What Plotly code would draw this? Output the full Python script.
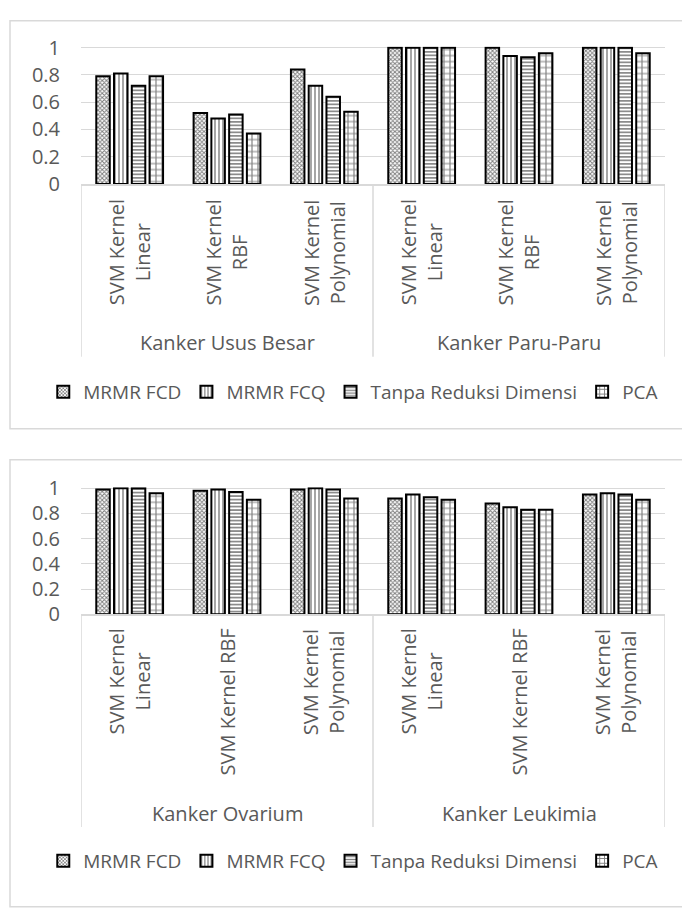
import plotly.graph_objects as go

# ---- data -------------------------------------------------------------
series_names = ["MRMR FCD", "MRMR FCQ", "Tanpa Reduksi Dimensi", "PCA"]

top_groups = ["Kanker Usus Besar", "Kanker Paru-Paru"]
top_kernels = ["SVM Kernel<br>Linear", "SVM Kernel<br>RBF", "SVM Kernel<br>Polynomial"]
top_fcd = [0.79, 0.52, 0.84, 1.00, 1.00, 1.00]
top_fcq = [0.81, 0.48, 0.72, 1.00, 0.94, 1.00]
top_tanpa = [0.72, 0.51, 0.64, 1.00, 0.93, 1.00]
top_pca = [0.79, 0.37, 0.53, 1.00, 0.96, 0.96]

bottom_groups = ["Kanker Ovarium", "Kanker Leukimia"]
bottom_kernels = ["SVM Kernel<br>Linear", "SVM Kernel RBF", "SVM Kernel<br>Polynomial"]
bot_fcd = [0.99, 0.98, 0.99, 0.92, 0.88, 0.95]
bot_fcq = [1.00, 0.99, 1.00, 0.95, 0.85, 0.96]
bot_tanpa = [1.00, 0.97, 0.99, 0.93, 0.83, 0.95]
bot_pca = [0.96, 0.91, 0.92, 0.91, 0.83, 0.91]

y_ticks = [0, 0.2, 0.4, 0.6, 0.8, 1]
y_tick_text = ["0", "0.2", "0.4", "0.6", "0.8", "1"]

# ---- styling ----------------------------------------------------------
W, H = 682, 908
FONT = "Open Sans"
TXT = "#595959"
GRID = "#d9d9d9"
FS = 20
LEGEND_FS = 19

patterns = [
    dict(shape="x", size=3, solidity=0.55),
    dict(shape="|", size=4, solidity=0.35),
    dict(shape="-", size=3.5, solidity=0.45),
    dict(shape="+", size=6, solidity=0.35),
]


def py(px):
    """pixel row (from top) -> paper fraction"""
    return 1 - px / H


def pxx(px):
    return px / W


fig = go.Figure()

top_vals = [top_fcd, top_fcq, top_tanpa, top_pca]
bot_vals = [bot_fcd, bot_fcq, bot_tanpa, bot_pca]
positions = list(range(6))

for i, name in enumerate(series_names):
    for vals, xa, ya, lg in ((top_vals[i], "x", "y", "legend"),
                             (bot_vals[i], "x2", "y2", "legend2")):
        fig.add_trace(go.Bar(
            x=positions, y=vals, name=name, xaxis=xa, yaxis=ya, legend=lg,
            marker=dict(color="white",
                        line=dict(color="black", width=2),
                        pattern=dict(fgcolor="black", bgcolor="white",
                                     fillmode="overlay", **patterns[i])),
            hoverinfo="skip",
        ))

xdom = [pxx(81), pxx(665)]
axis_x = dict(range=[-0.5, 5.5], domain=xdom, showgrid=False, zeroline=False,
              showticklabels=False, showline=True, linecolor=GRID, linewidth=1.5,
              fixedrange=True)
axis_y = dict(range=[0, 1.008], tickvals=y_ticks, ticktext=y_tick_text,
              showgrid=True, gridcolor=GRID, gridwidth=1.3, zeroline=False,
              showline=False, ticks="", ticklabelstandoff=20,
              tickfont=dict(size=FS, color=TXT, family=FONT), fixedrange=True)

legend_common = dict(orientation="h", x=0.518, xanchor="center", yanchor="middle",
                     font=dict(size=LEGEND_FS, color=TXT, family=FONT), itemwidth=30,
                     bgcolor="rgba(0,0,0,0)", traceorder="normal")

fig.update_layout(
    width=W, height=H, margin=dict(l=0, r=0, t=0, b=0),
    paper_bgcolor="white", plot_bgcolor="white",
    font=dict(family=FONT, size=FS, color=TXT),
    barmode="group", bargap=0.27, bargroupgap=0.24,
    xaxis=dict(axis_x, anchor="y"),
    yaxis=dict(axis_y, domain=[py(176), py(34.6)], anchor="x"),
    xaxis2=dict(axis_x, anchor="y2"),
    yaxis2=dict(axis_y, domain=[py(618.9), py(488.3)], anchor="x2"),
    legend=dict(legend_common, y=py(390)),
    legend2=dict(legend_common, y=py(873)),
    showlegend=True,
)

shapes = []
annotations = []

# outer chart frames
shapes.append(dict(type="rect", xref="paper", yref="paper", x0=pxx(10), x1=1.02,
                   y0=py(428), y1=py(8), line=dict(color=GRID, width=1.5)))
shapes.append(dict(type="rect", xref="paper", yref="paper", x0=pxx(10), x1=1.02,
                   y0=py(920), y1=py(460), line=dict(color=GRID, width=1.5)))

# multi-level category axis: dividers, kernel labels and group labels
for xa, axis_top, axis_bottom, kernels, groups, label_top, group_y in (
        ("x", 176, 354, top_kernels, top_groups, 190, 339),
        ("x2", 618.9, 838, bottom_kernels, bottom_groups, 632, 824)):
    for xv in (-0.5, 2.5, 5.5):
        shapes.append(dict(type="line", xref=xa, yref="paper", x0=xv, x1=xv,
                           y0=py(axis_bottom), y1=py(axis_top),
                           line=dict(color=GRID, width=1.5)))
    for k in range(6):
        annotations.append(dict(xref=xa, yref="paper", x=k, y=py(label_top),
                                text=kernels[k % 3], textangle=-90, showarrow=False,
                                xanchor="center", yanchor="top", align="center",
                                font=dict(size=FS, color=TXT, family=FONT)))
    for g, name in enumerate(groups):
        annotations.append(dict(xref=xa, yref="paper", x=1 + 3 * g, y=py(group_y),
                                text=name, showarrow=False, xanchor="center",
                                yanchor="middle",
                                font=dict(size=FS, color=TXT, family=FONT)))

fig.update_layout(shapes=shapes, annotations=annotations)

fig.write_html("out.html")
